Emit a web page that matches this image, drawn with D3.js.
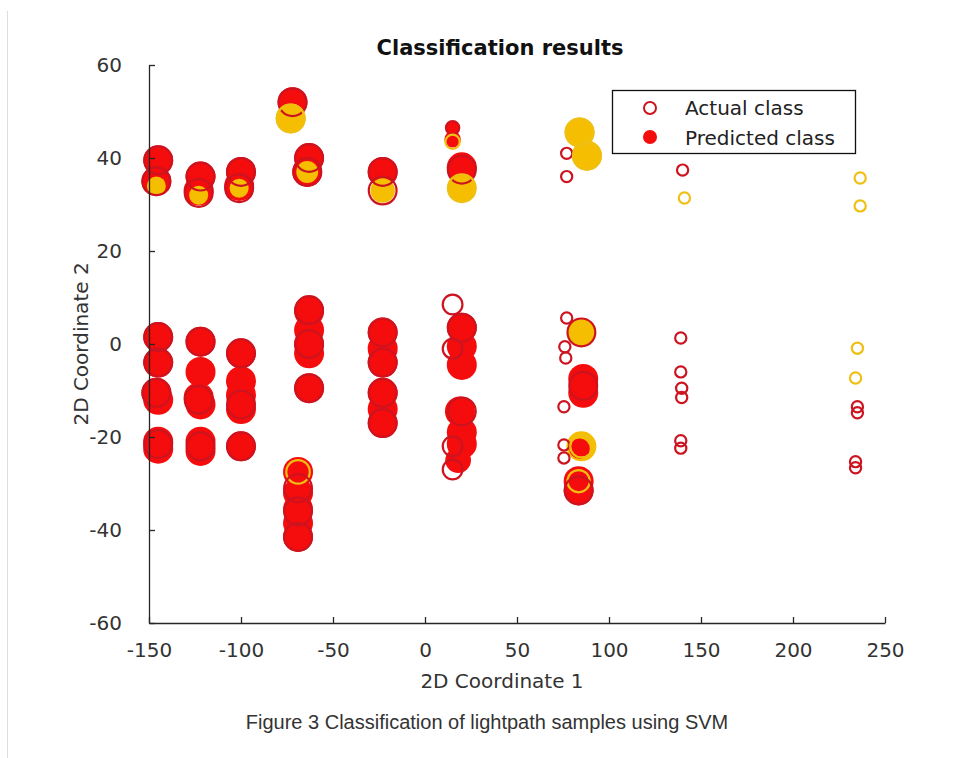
<!DOCTYPE html>
<html>
<head>
<meta charset="utf-8">
<script src="https://cdn.jsdelivr.net/npm/d3@7/dist/d3.min.js"></script>
<style>
  html, body { margin: 0; padding: 0; background: #fff; }
  svg { display: block; }
</style>
</head>
<body>
<svg id="chart" width="974" height="758"></svg>
<script>
// ---------------- data ----------------
const xTicks = [-150, -100, -50, 0, 50, 100, 150, 200, 250];
const yTicks = [-60, -40, -20, 0, 20, 40, 60];
const classNames = ["Actual class", "Predicted class"];

// Predicted class (filled markers)
const predX = [
  -145, -146, -146, -145, -145, -146, -145, -145, -145,
  -122, -123, -123, -122, -122, -123, -122, -122, -122,
  -100, -101, -101, -100, -100, -100, -100, -100,
  -72, -73, -69, -69, -69, -69, -69,
  -63, -64, -64, -63, -63, -63, -63, -63,
  -23, -23, -23, -23, -23, -23, -23, -23,
  15, 15, 20, 20, 20, 20, 20, 19, 20, 20, 18,
  84, 88, 85, 86, 86, 85, 84, 83.5, 83.5
];
const predY = [
  39.5, 35, 34, 1.5, -4, -10.5, -12, -21, -22.5,
  36, 33, 32, 0.5, -6, -11.5, -13, -21, -23,
  37, 34, 33.5, -2, -8, -11, -14, -22,
  52, 48.5, -27.5, -32, -35.5, -38.5, -41.5,
  40, 37, 37, 7, 3, 0, -2, -9.5,
  37, 33, 2.5, -1, -4, -10.5, -14, -17,
  46.5, 44, 38, 33.5, 3.5, -0.5, -4.5, -14.5, -19, -21.5, -25,
  45.5, 40.5, 2.5, -7.5, -10.5, -22, -22.5, -29.5, -31.5
];
const predSize = [
  150, 150, 60, 150, 150, 150, 150, 150, 150,
  150, 150, 60, 150, 150, 150, 150, 150, 150,
  150, 150, 60, 150, 150, 150, 150, 150,
  150, 150, 150, 150, 150, 150, 150,
  150, 150, 80, 150, 150, 150, 150, 150,
  150, 100, 150, 150, 150, 150, 150, 150,
  30, 45, 150, 120, 150, 150, 150, 150, 150, 150, 110,
  150, 150, 140, 150, 150, 150, 70, 150, 150
];
const predClass = [
  1, 1, 2, 1, 1, 1, 1, 1, 1,
  1, 1, 2, 1, 1, 1, 1, 1, 1,
  1, 1, 2, 1, 1, 1, 1, 1,
  1, 2, 1, 1, 1, 1, 1,
  1, 1, 2, 1, 1, 1, 1, 1,
  1, 2, 1, 1, 1, 1, 1, 1,
  1, 1, 1, 2, 1, 1, 1, 1, 1, 1, 1,
  2, 2, 2, 1, 1, 2, 1, 1, 1
];

// Actual class (open markers)
const actX = [
  -145, -146, -145, -145, -146, -145,
  -122, -123, -122, -123, -122,
  -100, -101, -100, -100, -100,
  -72, -73, -69, -69, -69, -69,
  -63, -64, -63, -63, -63,
  -23, -23, -23, -23, -23, -23,
  15, 15, 20, 20, 15, 15, 15, 15, 20, 20,
  77, 77, 77, 76, 76.5, 75.5, 75.5, 75.5,
  84, 88, 85, 86, 85, 83.5, 83.5,
  140, 141, 139, 139, 139.5, 139.5, 139, 139,
  236.5, 236.5, 235, 234, 235, 235, 234, 234
];
const actY = [
  39.5, 35, 1.5, -4, -10.5, -21.5,
  36, 32.5, 0.5, -12, -22,
  37, 33.5, -2, -13, -22,
  52, 48.5, -27.5, -31, -36, -41.5,
  40, 37, 7.3, 0, -9.5,
  37, 33, 2.5, -4, -10.5, -17,
  46.5, 43.5, 37.5, 33.5, 8.5, -1, -22, -27, 3.5, -14.5,
  41, 36, 5.6, -0.6, -3, -13.5, -21.7, -24.5,
  45.5, 40.5, 2.5, -9, -22, -29.5, -31.5,
  37.4, 31.4, 1.3, -6, -9.5, -11.5, -20.8, -22.4,
  35.7, 29.7, -0.9, -7.3, -13.5, -14.8, -25.3, -26.6
];
const actSize = [
  150, 150, 150, 150, 150, 150,
  150, 150, 150, 150, 150,
  150, 150, 150, 150, 150,
  150, 150, 110, 150, 150, 150,
  150, 150, 150, 150, 150,
  150, 150, 150, 150, 150, 150,
  40, 45, 150, 150, 80, 80, 80, 80, 150, 150,
  30, 30, 30, 30, 30, 30, 30, 30,
  150, 150, 150, 150, 100, 100, 150,
  30, 30, 30, 30, 30, 30, 30, 30,
  30, 30, 30, 30, 30, 30, 30, 30
];
const actClass = [
  1, 1, 1, 1, 1, 1,
  1, 1, 1, 1, 1,
  1, 1, 1, 1, 1,
  1, 2, 2, 1, 1, 1,
  1, 1, 1, 1, 1,
  1, 1, 1, 1, 1, 1,
  1, 2, 1, 2, 1, 1, 1, 1, 1, 1,
  1, 1, 1, 1, 1, 1, 1, 1,
  2, 2, 1, 1, 2, 2, 1,
  1, 2, 1, 1, 1, 1, 1, 1,
  2, 2, 2, 2, 1, 1, 1, 1
];

// ---------------- chart ----------------
const svg = d3.select("#chart");
const W = 974, H = 758;
const fillColor = d3.scaleOrdinal().domain([1, 2]).range(["#f50c0c", "#f5be00"]);
const ringColor = d3.scaleOrdinal().domain([1, 2]).range(["#cc1420", "#efbf12"]);

const x = d3.scaleLinear().domain([-150, 250]).range([149, 885]);
const y = d3.scaleLinear().domain([-60, 60]).range([623, 65]);
const r = d3.scaleSqrt().domain([0, 150]).range([0, 15]);

// page border line on left
svg.append("line")
  .attr("x1", 7.5).attr("x2", 7.5).attr("y1", 11).attr("y2", H)
  .attr("stroke", "#dedede").attr("stroke-width", 1);

const pred = predX.map((v, i) => ({x: v, y: predY[i], s: predSize[i], c: predClass[i]}));
const act = actX.map((v, i) => ({x: v, y: actY[i], s: actSize[i], c: actClass[i]}));

const plot = svg.append("g");
plot.selectAll("circle.pred").data(pred).join("circle")
  .attr("class", "pred")
  .attr("cx", d => x(d.x)).attr("cy", d => y(d.y))
  .attr("r", d => r(d.s))
  .attr("fill", d => fillColor(d.c));

plot.selectAll("circle.act").data(act).join("circle")
  .attr("class", "act")
  .attr("cx", d => x(d.x)).attr("cy", d => y(d.y))
  .attr("r", d => r(d.s) - 1.1)
  .attr("fill", "none")
  .attr("stroke", d => ringColor(d.c))
  .attr("stroke-width", 2.2);

// axes
const font = "'DejaVu Sans', sans-serif";
const xAxis = svg.append("g").attr("transform", "translate(0,623)")
  .call(d3.axisBottom(x).tickValues(xTicks).tickSizeInner(-6).tickSizeOuter(0)
        .tickPadding(20).tickFormat(d => String(d)));
const yAxis = svg.append("g").attr("transform", "translate(149,0)")
  .call(d3.axisLeft(y).tickValues(yTicks).tickSizeInner(-6).tickSizeOuter(0)
        .tickPadding(27).tickFormat(d => String(d)));
[xAxis, yAxis].forEach(g => {
  g.select(".domain").attr("stroke", "#262626").attr("stroke-width", 1.3);
  g.selectAll(".tick line").attr("stroke", "#262626").attr("stroke-width", 1.3);
  g.selectAll(".tick text").attr("fill", "#333").attr("font-size", 20)
    .attr("font-family", font);
});

// title and labels
svg.append("text").attr("x", 500).attr("y", 55).attr("text-anchor", "middle")
  .attr("font-family", font).attr("font-weight", "bold").attr("font-size", 21)
  .attr("fill", "#111").text("Classification results");
svg.append("text").attr("x", 502).attr("y", 688).attr("text-anchor", "middle")
  .attr("font-family", font).attr("font-size", 20).attr("fill", "#333")
  .text("2D Coordinate 1");
svg.append("text").attr("transform", "translate(88,344) rotate(-90)")
  .attr("text-anchor", "middle")
  .attr("font-family", font).attr("font-size", 20).attr("fill", "#333")
  .text("2D Coordinate 2");

// legend
const lg = svg.append("g");
lg.append("rect").attr("x", 612.5).attr("y", 90.5).attr("width", 243).attr("height", 63)
  .attr("fill", "#fff").attr("stroke", "#111").attr("stroke-width", 1.3);
lg.append("circle").attr("cx", 650).attr("cy", 108).attr("r", 6)
  .attr("fill", "none").attr("stroke", ringColor(1)).attr("stroke-width", 2);
lg.append("circle").attr("cx", 650).attr("cy", 137).attr("r", 7)
  .attr("fill", fillColor(1));
lg.append("text").attr("x", 685).attr("y", 115).attr("font-family", font)
  .attr("font-size", 20).attr("fill", "#222").text(classNames[0]);
lg.append("text").attr("x", 685).attr("y", 145).attr("font-family", font)
  .attr("font-size", 20).attr("fill", "#222").text(classNames[1]);

// caption
svg.append("text").attr("x", 487).attr("y", 729).attr("text-anchor", "middle")
  .attr("font-family", "'Liberation Sans', Arial, sans-serif").attr("font-size", 20)
  .attr("fill", "#333").text("Figure 3 Classification of lightpath samples using SVM");
</script>
</body>
</html>
